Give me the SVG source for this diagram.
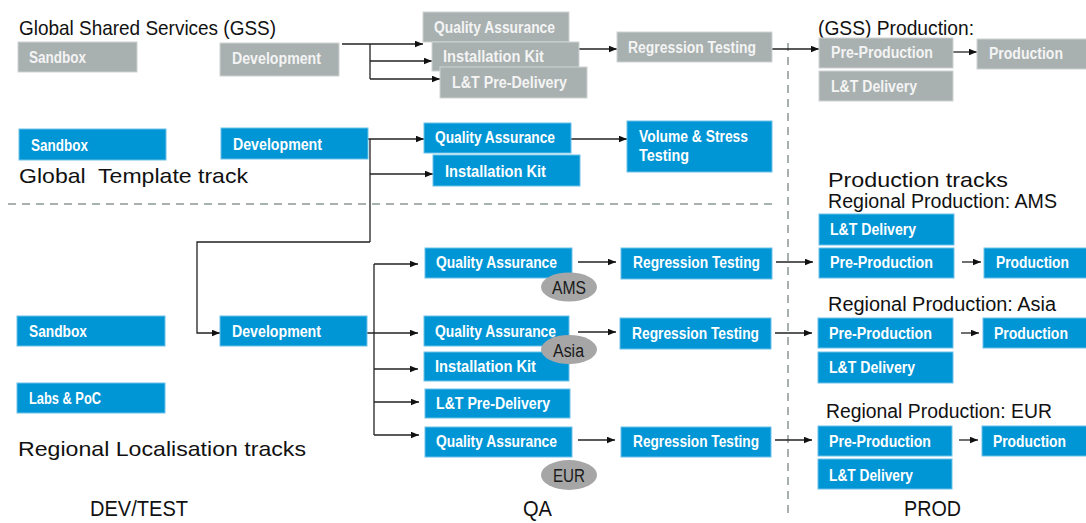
<svg xmlns="http://www.w3.org/2000/svg" width="1086" height="523" viewBox="0 0 1086 523">
<style>
.b{fill:#0096d6;stroke:#6cc0e8;stroke-width:1}
.g{fill:#a8b0b0;stroke:#cfd3d3;stroke-width:1}
.t{font-family:"Liberation Sans",Arial,sans-serif;font-weight:bold;font-size:16px;fill:#ffffff}
.tg{font-family:"Liberation Sans",Arial,sans-serif;font-weight:bold;font-size:16px;fill:#f4f4f4}
.h{font-family:"Liberation Sans",Arial,sans-serif;font-size:21px;fill:#111111}
.h2{font-family:"Liberation Sans",Arial,sans-serif;font-size:20px;fill:#111111}
.f{font-family:"Liberation Sans",Arial,sans-serif;font-size:22px;fill:#111111}
.e{fill:#a6a6a6}
.et{font-family:"Liberation Sans",Arial,sans-serif;font-size:18px;fill:#1a1a1a}
.c{fill:none;stroke:#222222;stroke-width:1.3;marker-end:url(#a)}
.l{fill:none;stroke:#222222;stroke-width:1.3}
.d{fill:none;stroke:#a9b0b0;stroke-width:2;stroke-dasharray:8 6}
</style>
<defs>
<marker id="a" markerUnits="userSpaceOnUse" markerWidth="9" markerHeight="8" refX="8.5" refY="3.5" orient="auto">
<path d="M0,0 L8.5,3.5 L0,7 z" fill="#111111"/>
</marker>
</defs>
<rect width="1086" height="523" fill="#ffffff"/>

<g id="dividers">
<line class="d" x1="8" y1="204" x2="778" y2="204"/>
<line class="d" x1="788" y1="43" x2="788" y2="514"/>
</g>

<g id="labels">
<text class="h" x="19" y="35" textLength="257" lengthAdjust="spacingAndGlyphs">Global Shared Services (GSS)</text>
<text class="h" x="19" y="183" textLength="229" lengthAdjust="spacingAndGlyphs" xml:space="preserve">Global  Template track</text>
<text class="h" x="818" y="35" textLength="156" lengthAdjust="spacingAndGlyphs">(GSS) Production:</text>
<text class="h" x="828" y="187" textLength="180" lengthAdjust="spacingAndGlyphs">Production tracks</text>
<text class="h2" x="828" y="208" textLength="229" lengthAdjust="spacingAndGlyphs">Regional Production: AMS</text>
<text class="h2" x="828" y="311" textLength="228" lengthAdjust="spacingAndGlyphs">Regional Production: Asia</text>
<text class="h2" x="826" y="418" textLength="226" lengthAdjust="spacingAndGlyphs">Regional Production: EUR</text>
<text class="h" x="18" y="456" textLength="288" lengthAdjust="spacingAndGlyphs">Regional Localisation tracks</text>
<text class="f" x="90" y="516" textLength="98" lengthAdjust="spacingAndGlyphs">DEV/TEST</text>
<text class="f" x="523" y="516" textLength="29" lengthAdjust="spacingAndGlyphs">QA</text>
<text class="f" x="904" y="516" textLength="57" lengthAdjust="spacingAndGlyphs">PROD</text>
</g>

<g id="connectors">
<path class="c" d="M342,44 H423"/>
<path class="l" d="M370,44 V79"/>
<path class="c" d="M370,61 H432"/>
<path class="c" d="M370,79 H440"/>
<path class="c" d="M579,49 H617"/>
<path class="c" d="M772,49 H819"/>
<path class="c" d="M949,52 H977"/>
<path class="c" d="M368,139 H424"/>
<path class="c" d="M370,174 H433"/>
<path class="l" d="M370,139 V242"/>
<path class="c" d="M370,242 H197 V333 H220"/>
<path class="c" d="M571,139 H627"/>
<path class="c" d="M367,333 H418"/>
<path class="l" d="M374,264 V435"/>
<path class="c" d="M374,264 H418"/>
<path class="c" d="M374,369 H418"/>
<path class="c" d="M374,402 H419"/>
<path class="c" d="M374,435 H419"/>
<path class="c" d="M578,262 H616"/>
<path class="c" d="M578,332 H616"/>
<path class="c" d="M578,440 H615"/>
<path class="c" d="M776,262 H813"/>
<path class="c" d="M775,333 H812"/>
<path class="c" d="M775,440 H812"/>
<path class="c" d="M962,262 H981"/>
<path class="c" d="M961,333 H979"/>
<path class="c" d="M959,440 H978"/>
</g>

<g id="gss-sandbox"><rect class="g" x="18" y="42" width="119" height="30"/><text class="tg" x="29" y="63" textLength="57" lengthAdjust="spacingAndGlyphs">Sandbox</text></g>
<g id="gss-development"><rect class="g" x="220" y="43" width="119" height="33"/><text class="tg" x="232" y="64" textLength="89" lengthAdjust="spacingAndGlyphs">Development</text></g>
<g id="gss-qa"><rect class="g" x="423" y="12" width="146" height="30"/><text class="tg" x="434" y="33" textLength="121" lengthAdjust="spacingAndGlyphs">Quality Assurance</text></g>
<g id="gss-kit"><rect class="g" x="432" y="42" width="147" height="29"/><text class="tg" x="443" y="62" textLength="101" lengthAdjust="spacingAndGlyphs">Installation Kit</text></g>
<g id="gss-ltpre"><rect class="g" x="440" y="67" width="147" height="31"/><text class="tg" x="452" y="88" textLength="115" lengthAdjust="spacingAndGlyphs">L&amp;T Pre-Delivery</text></g>
<g id="gss-regression"><rect class="g" x="617" y="32" width="155" height="30"/><text class="tg" x="628" y="53" textLength="128" lengthAdjust="spacingAndGlyphs">Regression Testing</text></g>
<g id="gss-preprod"><rect class="g" x="819" y="38" width="134" height="30"/><text class="tg" x="831" y="58" textLength="102" lengthAdjust="spacingAndGlyphs">Pre-Production</text></g>
<g id="gss-ltdelivery"><rect class="g" x="819" y="71" width="134" height="30"/><text class="tg" x="831" y="92" textLength="86" lengthAdjust="spacingAndGlyphs">L&amp;T Delivery</text></g>
<g id="gss-production"><rect class="g" x="977" y="39" width="115" height="30"/><text class="tg" x="989" y="59" textLength="74" lengthAdjust="spacingAndGlyphs">Production</text></g>

<g id="tpl-sandbox"><rect class="b" x="19" y="129" width="147" height="31"/><text class="t" x="31" y="151" textLength="57" lengthAdjust="spacingAndGlyphs">Sandbox</text></g>
<g id="tpl-development"><rect class="b" x="221" y="128" width="147" height="31"/><text class="t" x="233" y="150" textLength="89" lengthAdjust="spacingAndGlyphs">Development</text></g>
<g id="tpl-qa"><rect class="b" x="424" y="123" width="147" height="30"/><text class="t" x="435" y="143" textLength="120" lengthAdjust="spacingAndGlyphs">Quality Assurance</text></g>
<g id="tpl-kit"><rect class="b" x="433" y="155" width="147" height="31"/><text class="t" x="445" y="177" textLength="101" lengthAdjust="spacingAndGlyphs">Installation Kit</text></g>
<g id="tpl-volume"><rect class="b" x="627" y="121" width="145" height="51"/><text class="t" x="639" y="142" textLength="109" lengthAdjust="spacingAndGlyphs">Volume &amp; Stress</text><text class="t" x="639" y="161" textLength="50" lengthAdjust="spacingAndGlyphs">Testing</text></g>

<g id="reg-sandbox"><rect class="b" x="17" y="316" width="148" height="30"/><text class="t" x="29" y="337" textLength="58" lengthAdjust="spacingAndGlyphs">Sandbox</text></g>
<g id="reg-labs"><rect class="b" x="17" y="383" width="148" height="30"/><text class="t" x="29" y="404" textLength="72" lengthAdjust="spacingAndGlyphs">Labs &amp; PoC</text></g>
<g id="reg-development"><rect class="b" x="220" y="316" width="147" height="30"/><text class="t" x="232" y="337" textLength="89" lengthAdjust="spacingAndGlyphs">Development</text></g>
<g id="reg-qa-ams"><rect class="b" x="425" y="248" width="147" height="30"/><text class="t" x="436" y="268" textLength="121" lengthAdjust="spacingAndGlyphs">Quality Assurance</text></g>
<g id="reg-qa-asia"><rect class="b" x="424" y="316" width="145" height="30"/><text class="t" x="435" y="337" textLength="121" lengthAdjust="spacingAndGlyphs">Quality Assurance</text></g>
<g id="reg-kit"><rect class="b" x="424" y="352" width="145" height="29"/><text class="t" x="435" y="372" textLength="101" lengthAdjust="spacingAndGlyphs">Installation Kit</text></g>
<g id="reg-ltpre"><rect class="b" x="425" y="389" width="145" height="29"/><text class="t" x="436" y="409" textLength="114" lengthAdjust="spacingAndGlyphs">L&amp;T Pre-Delivery</text></g>
<g id="reg-qa-eur"><rect class="b" x="425" y="427" width="147" height="30"/><text class="t" x="436" y="447" textLength="121" lengthAdjust="spacingAndGlyphs">Quality Assurance</text></g>

<g id="tag-ams"><ellipse class="e" cx="569" cy="287" rx="28" ry="14.5"/><text class="et" x="552" y="294" textLength="34" lengthAdjust="spacingAndGlyphs">AMS</text></g>
<g id="tag-asia"><ellipse class="e" cx="569" cy="349.5" rx="28" ry="14.5"/><text class="et" x="553" y="357" textLength="31" lengthAdjust="spacingAndGlyphs">Asia</text></g>
<g id="tag-eur"><ellipse class="e" cx="569" cy="475" rx="28" ry="15"/><text class="et" x="553" y="482" textLength="32" lengthAdjust="spacingAndGlyphs">EUR</text></g>

<g id="reg-regression-ams"><rect class="b" x="621" y="248" width="151" height="31"/><text class="t" x="633" y="268" textLength="127" lengthAdjust="spacingAndGlyphs">Regression Testing</text></g>
<g id="reg-regression-asia"><rect class="b" x="620" y="318" width="151" height="31"/><text class="t" x="632" y="339" textLength="127" lengthAdjust="spacingAndGlyphs">Regression Testing</text></g>
<g id="reg-regression-eur"><rect class="b" x="621" y="427" width="150" height="30"/><text class="t" x="633" y="447" textLength="126" lengthAdjust="spacingAndGlyphs">Regression Testing</text></g>

<g id="ams-ltdelivery"><rect class="b" x="819" y="214" width="135" height="31"/><text class="t" x="830" y="235" textLength="86" lengthAdjust="spacingAndGlyphs">L&amp;T Delivery</text></g>
<g id="ams-preprod"><rect class="b" x="819" y="248" width="135" height="30"/><text class="t" x="830" y="268" textLength="103" lengthAdjust="spacingAndGlyphs">Pre-Production</text></g>
<g id="ams-production"><rect class="b" x="984" y="248" width="110" height="30"/><text class="t" x="996" y="268" textLength="73" lengthAdjust="spacingAndGlyphs">Production</text></g>
<g id="asia-preprod"><rect class="b" x="818" y="318" width="135" height="30"/><text class="t" x="829" y="339" textLength="103" lengthAdjust="spacingAndGlyphs">Pre-Production</text></g>
<g id="asia-production"><rect class="b" x="983" y="318" width="110" height="30"/><text class="t" x="994" y="339" textLength="74" lengthAdjust="spacingAndGlyphs">Production</text></g>
<g id="asia-ltdelivery"><rect class="b" x="818" y="352" width="135" height="31"/><text class="t" x="829" y="373" textLength="86" lengthAdjust="spacingAndGlyphs">L&amp;T Delivery</text></g>
<g id="eur-preprod"><rect class="b" x="818" y="426" width="134" height="30"/><text class="t" x="829" y="447" textLength="102" lengthAdjust="spacingAndGlyphs">Pre-Production</text></g>
<g id="eur-production"><rect class="b" x="982" y="426" width="110" height="30"/><text class="t" x="993" y="447" textLength="73" lengthAdjust="spacingAndGlyphs">Production</text></g>
<g id="eur-ltdelivery"><rect class="b" x="818" y="459" width="134" height="30"/><text class="t" x="829" y="481" textLength="84" lengthAdjust="spacingAndGlyphs">L&amp;T Delivery</text></g>
</svg>
